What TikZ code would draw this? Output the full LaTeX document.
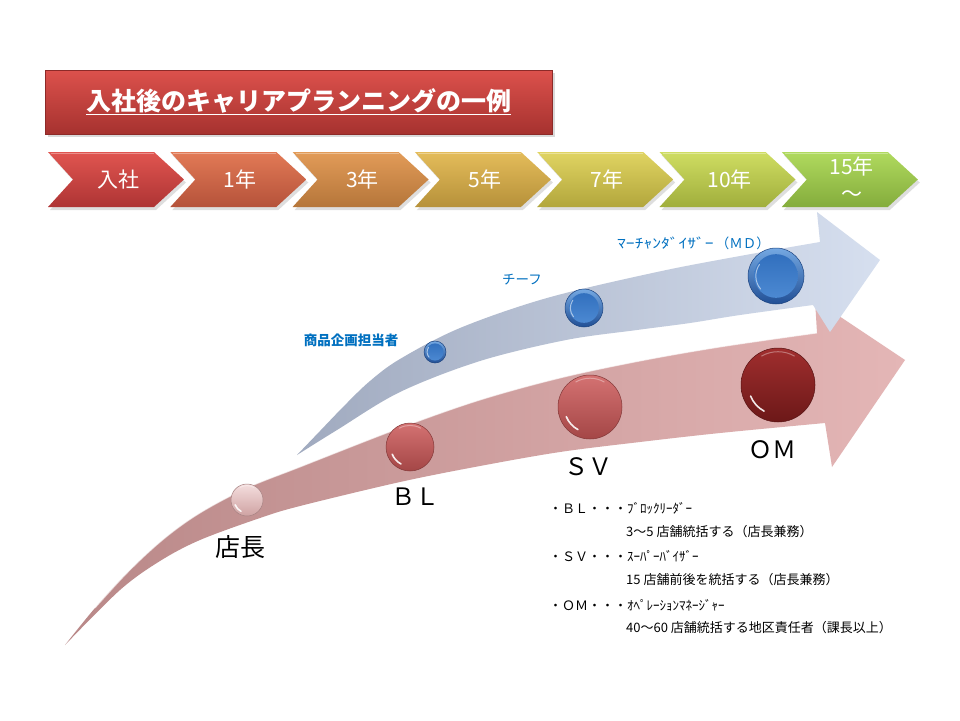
\documentclass[tikz,border=0pt]{standalone}
\usepackage{fontspec}
\setmainfont{Noto Sans CJK JP}
\usetikzlibrary{calc}
\definecolor{titletop}{HTML}{DC514C}
\definecolor{titlebot}{HTML}{A6322F}
\definecolor{c0t}{HTML}{E05550}\definecolor{c0b}{HTML}{AE3434}
\definecolor{c1t}{HTML}{E27A56}\definecolor{c1b}{HTML}{B5523A}
\definecolor{c2t}{HTML}{E29B58}\definecolor{c2b}{HTML}{B5763A}
\definecolor{c3t}{HTML}{E4BC5A}\definecolor{c3b}{HTML}{B6913A}
\definecolor{c4t}{HTML}{E0D462}\definecolor{c4b}{HTML}{B2A63C}
\definecolor{c5t}{HTML}{CFDD62}\definecolor{c5b}{HTML}{A0AE3C}
\definecolor{c6t}{HTML}{B0DA5E}\definecolor{c6b}{HTML}{84AC3C}
\definecolor{redL}{HTML}{B98888}
\definecolor{redR}{HTML}{E4B6B6}
\definecolor{bluL}{HTML}{A0AABF}
\definecolor{bluR}{HTML}{D6DFEF}
\definecolor{mdblue}{HTML}{0070C0}
\definecolor{tct}{HTML}{F4DEDE}\definecolor{tcb}{HTML}{CFA2A2}
\definecolor{rdt}{HTML}{D47272}\definecolor{rdb}{HTML}{A44646}
\definecolor{omt}{HTML}{A02E2E}\definecolor{omb}{HTML}{6C1818}
\definecolor{bt1}{HTML}{74A8E2}\definecolor{bb1}{HTML}{214F95}
\definecolor{bt2}{HTML}{3270BE}\definecolor{bb2}{HTML}{4C89D2}
\newcommand\gball[6]{%
  \node[circle, inner sep=0pt, minimum size=2*#4pt, top color=#5, bottom color=#6,
        draw=#6!80!black, line width=0.5pt] (#1) at (#2,#3) {};
  \draw[white, opacity=0.35, line width=1pt]
    ($(#1.center)+(-60:0.9*#4)$) arc (-60:-120:0.9*#4);
  \draw[white, opacity=0.9, line width=1.6pt, line cap=round]
    ($(#1.center)+(118:0.8*#4)$) arc (118:158:0.8*#4);
}
\newcommand\bball[4]{%
  \node[circle, inner sep=0pt, minimum size=2*#4pt, top color=bt1, bottom color=bb1,
        draw=bb1!85!black, line width=0.5pt] (#1) at (#2,#3) {};
  \node[circle, inner sep=0pt, minimum size=1.56*#4pt, top color=bt2, bottom color=bb2] (#1in) at (#2,#3) {};
  \draw[white, opacity=0.55, line width=1pt, line cap=round]
    ($(#1.center)+(140:0.72*#4)$) arc (140:215:0.72*#4);
}
\tikzset{
  chevlab/.style={text=white, font=\fontsize{21}{27}\selectfont, align=center, inner sep=0pt},
  biglab/.style={text=black, font=\fontsize{24}{24}\selectfont, inner sep=0pt},
  bluelab/.style={text=mdblue, font=\fontsize{13.5}{14}\selectfont, inner sep=0pt},
  notelab/.style={text=black, font=\fontsize{13}{14}\selectfont, inner sep=0pt, anchor=west},
}
\begin{document}
\begin{tikzpicture}[x=1pt,y=-1pt]
\useasboundingbox (0,0) rectangle (960,720);
\fill[white] (0,0) rectangle (960,720);

% ---- title
\fill[black, opacity=0.15] (48,73) rectangle (555,137);
\node[rectangle, minimum width=507pt, minimum height=64pt, top color=titletop, bottom color=titlebot,
      draw=titlebot!85!black, line width=0.4pt] (titlebox) at (298.5,102) {};
\node[text=white, font=\bfseries\fontsize{25}{25}\selectfont, inner sep=0pt] (title) at (298.5,101) {入社後のキャリアプランニングの一例};
\draw[white, line width=1.3pt] ($(title.base west)+(0,4)$) -- ($(title.base east)+(0,4)$);

% ---- chevrons
\foreach \i/\lab/\ct/\cb in {0/入社/c0t/c0b,1/1年/c1t/c1b,2/3年/c2t/c2b,3/5年/c3t/c3b,4/7年/c4t/c4b,5/10年/c5t/c5b,6/{15年\\～}/c6t/c6b}{
  \pgfmathsetmacro\L{48+122.3*\i}
  \fill[black, opacity=0.13] (\L+2,155) -- ++(106,0) -- ++(30,27.5) -- ++(-30,27.5) -- ++(-106,0) -- ++(25,-27.5) -- cycle;
  \path[top color=\ct, bottom color=\cb] (\L,152) -- ++(106,0) -- ++(30,27.5) -- ++(-30,27.5) -- ++(-106,0) -- ++(25,-27.5) -- cycle;
  \draw[white, opacity=0.35, line width=1pt] (\L+3,153.5) -- ++(103,0);
  \node[chevlab] (chev\i) at (\L+70,179.5) {\lab};
}

% ---- red arrow
\path[left color=redL, right color=redR]
  plot[smooth, tension=0.55] coordinates {(65,645) (95,608) (130,570) (165,538) (200,513) (247,488) (300,467) (400,428) (480,400) (560,378) (640,361) (720,347) (817,333)}
  -- (815,300) -- (905,360) -- (832,467)
  -- plot[smooth, tension=0.55] coordinates {(825,423) (720,433) (640,442) (560,452) (480,466) (400,482) (300,506) (260,518) (200,540) (160,561) (120,590) (65,645)}
  -- cycle;
\draw[white, opacity=0.6, line width=1pt]
  plot[smooth, tension=0.55] coordinates {(95,608) (130,570) (165,538) (200,513) (247,488) (300,467) (400,428) (480,400) (560,378) (640,361) (720,347) (817,333)};

% ---- blue arrow
\path[left color=bluL, right color=bluR]
  plot[smooth, tension=0.55] coordinates {(297,455) (320,431) (345,405) (370,381) (400,359) (460,328) (547,298) (657,272) (740,256) (820,242)}
  -- (817,212) -- (880,260) -- (830,332)
  -- plot[smooth, tension=0.55] coordinates {(813,305) (740,315) (690,323) (637,330) (566,340) (480,361) (400,392) (337,430) (297,455)}
  -- cycle;

% ---- red balls
\gball{tencho}{247}{500}{16}{tct}{tcb}
\gball{bl}{410}{447}{24}{rdt}{rdb}
\gball{sv}{590}{407}{32}{rdt}{rdb}
\gball{om}{778}{385}{37}{omt}{omb}

% ---- blue balls
\bball{kikaku}{435}{352}{11}
\bball{chief}{584}{308}{19}
\bball{md}{776}{276}{28}

% ---- labels
\node[biglab, font=\fontsize{25}{25}\selectfont] (ltencho) at (240,547) {店長};
\node[biglab] (lbl) at (415,497) {ＢＬ};
\node[biglab] (lsv) at (588,467) {ＳＶ};
\node[biglab] (lom) at (772,450) {ＯＭ};
\node[bluelab, font=\bfseries\fontsize{13.5}{14}\selectfont] (lkikaku) at (351,340) {商品企画担当者};
\node[bluelab] (lchief) at (522,280) {チーフ};
\node[bluelab, anchor=west] (lmd) at (617,243) {\scalebox{1.3}[1]{ﾏｰﾁｬﾝﾀﾞｲｻﾞｰ}\,（ＭＤ）};

% ---- notes
\node[notelab] (n1) at (549,508) {・ＢＬ・・・ﾌﾞﾛｯｸﾘｰﾀﾞｰ};
\node[notelab] (n2) at (626,532) {3～5 店舗統括する（店長兼務）};
\node[notelab] (n3) at (549,556) {・ＳＶ・・・ｽｰﾊﾟｰﾊﾞｲｻﾞｰ};
\node[notelab] (n4) at (626,580) {15 店舗前後を統括する（店長兼務）};
\node[notelab] (n5) at (549,605) {・ＯＭ・・・ｵﾍﾟﾚｰｼｮﾝﾏﾈｰｼﾞｬｰ};
\node[notelab] (n6) at (626,628) {40～60 店舗統括する地区責任者（課長以上）};
\end{tikzpicture}
\end{document}
